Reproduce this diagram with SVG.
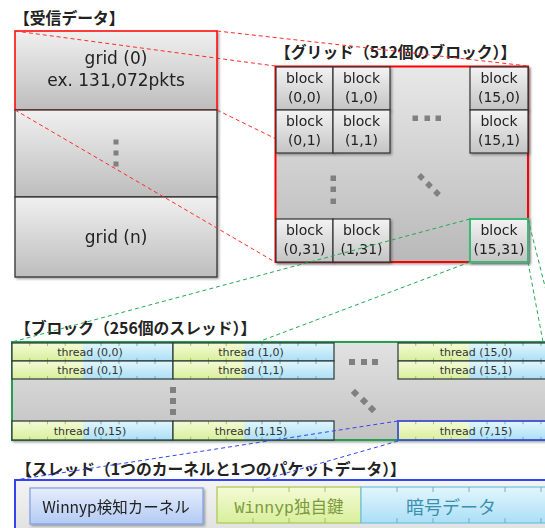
<svg xmlns="http://www.w3.org/2000/svg" width="545" height="528" viewBox="0 0 545 528">
<style>
.lbl{font-family:"Noto Sans CJK JP","Noto Sans CJK SC",sans-serif;font-weight:bold;font-size:15.8px;fill:#222}
.big{font-family:"DejaVu Sans",sans-serif;font-size:17px;fill:#222;text-anchor:middle}
.blk{font-family:"DejaVu Sans",sans-serif;font-size:14px;fill:#222;text-anchor:middle}
.thr{font-family:"DejaVu Sans",sans-serif;font-size:11px;fill:#333;text-anchor:middle}
.red{stroke:#ff2a2a;stroke-width:1;stroke-dasharray:4 3;fill:none}
.grn{stroke:#22aa55;stroke-width:1;stroke-dasharray:4 3;fill:none}
.blu{stroke:#3344ee;stroke-width:1;stroke-dasharray:4 3;fill:none}
.dot{fill:#808080}
.cell{fill:url(#gBlock);stroke:#333;stroke-width:1.2}
.gt{stroke:#a9c25a;stroke-width:1}
.bt{stroke:#6aaed0;stroke-width:1}
</style>
<defs>
<linearGradient id="gGray" x1="0" y1="0" x2="0" y2="1"><stop offset="0" stop-color="#f0f0f0"/><stop offset="1" stop-color="#bdbdbd"/></linearGradient>
<linearGradient id="gGrid" x1="0" y1="0" x2="0" y2="1"><stop offset="0" stop-color="#e8e8e8"/><stop offset="1" stop-color="#b9b9b9"/></linearGradient>
<linearGradient id="gBlock" x1="0" y1="0" x2="0" y2="1"><stop offset="0" stop-color="#f3f3f3"/><stop offset="1" stop-color="#c4c4c4"/></linearGradient>
<linearGradient id="gBB" x1="0" y1="0" x2="0" y2="1"><stop offset="0" stop-color="#e2e2e2"/><stop offset="1" stop-color="#c2c2c2"/></linearGradient>
<linearGradient id="gGreen" x1="0" y1="0" x2="0" y2="1"><stop offset="0" stop-color="#f4fbd6"/><stop offset="1" stop-color="#d8ef9c"/></linearGradient>
<linearGradient id="gBlue" x1="0" y1="0" x2="0" y2="1"><stop offset="0" stop-color="#e2f6fd"/><stop offset="1" stop-color="#abdff6"/></linearGradient>
<linearGradient id="gKern" x1="0" y1="0" x2="0" y2="1"><stop offset="0" stop-color="#e6eefc"/><stop offset="1" stop-color="#b3caf4"/></linearGradient>
<linearGradient id="gTB" x1="0" y1="0" x2="0" y2="1"><stop offset="0" stop-color="#f4f4f4"/><stop offset="1" stop-color="#dedede"/></linearGradient>
<filter id="sh" x="-5%" y="-5%" width="115%" height="140%"><feDropShadow dx="1.5" dy="1.5" stdDeviation="1" flood-color="#000" flood-opacity="0.35"/></filter>
<symbol id="thr" viewBox="0 0 161 18" preserveAspectRatio="none" overflow="visible">
<rect x="0" y="0" width="71" height="18" fill="url(#gGreen)"/>
<rect x="71" y="0" width="90" height="18" fill="url(#gBlue)"/>
<path class="gt" d="M17.75 0v3M35.5 0v3M53.25 0v3M17.75 15v3M35.5 15v3M53.25 15v3"/>
<path class="bt" d="M89 0v3M107 0v3M125 0v3M143 0v3M89 15v3M107 15v3M125 15v3M143 15v3"/>
<rect x="0" y="0" width="161" height="18" fill="none" stroke="#2b3838" stroke-width="1.2"/>
</symbol>
</defs>

<rect width="545" height="528" fill="#fff"/>

<!-- received data -->
<text class="lbl" x="14" y="24">【受信データ】</text>
<g id="grid-0" filter="url(#sh)">
<rect x="15" y="31" width="202" height="79" fill="url(#gGray)" stroke="#ff0000" stroke-width="1.5"/>
<text class="big" x="116" y="64">grid (0)</text>
<text class="big" x="116" y="86">ex. 131,072pkts</text>
</g>
<g id="grid-mid" filter="url(#sh)">
<rect x="15" y="110" width="202" height="87" fill="url(#gGray)" stroke="#333" stroke-width="1.3"/>
<rect class="dot" x="113.5" y="139.5" width="5" height="5"/>
<rect class="dot" x="113.5" y="150.5" width="5" height="5"/>
<rect class="dot" x="113.5" y="161.5" width="5" height="5"/>
</g>
<g id="grid-n" filter="url(#sh)">
<rect x="15" y="197" width="202" height="80" fill="url(#gGray)" stroke="#333" stroke-width="1.3"/>
<text class="big" x="116" y="243">grid (n)</text>
</g>

<!-- grid -->
<text class="lbl" x="275" y="58">【グリッド（512個のブロック）】</text>
<g id="grid" filter="url(#sh)">
<rect x="275.5" y="66.5" width="252.5" height="195.5" fill="url(#gGrid)" stroke="#ff0000" stroke-width="2"/>
<rect class="dot" x="412.5" y="115.5" width="5.5" height="5.5"/>
<rect class="dot" x="424.5" y="115.5" width="5.5" height="5.5"/>
<rect class="dot" x="435.5" y="115.5" width="5.5" height="5.5"/>
<rect class="dot" x="330.5" y="175.5" width="5.5" height="5.5"/>
<rect class="dot" x="330.5" y="186.5" width="5.5" height="5.5"/>
<rect class="dot" x="330.5" y="198.5" width="5.5" height="5.5"/>
<rect class="dot" x="-2.75" y="-2.75" width="5.5" height="5.5" transform="translate(421 177) rotate(45)"/>
<rect class="dot" x="-2.75" y="-2.75" width="5.5" height="5.5" transform="translate(429 185) rotate(45)"/>
<rect class="dot" x="-2.75" y="-2.75" width="5.5" height="5.5" transform="translate(437 193) rotate(45)"/>
</g>
<g id="block-0-0" filter="url(#sh)"><rect class="cell" x="276" y="67" width="57" height="43"/><text class="blk" x="304.5" y="83">block</text><text class="blk" x="304.5" y="102">(0,0)</text></g>
<g id="block-1-0" filter="url(#sh)"><rect class="cell" x="333" y="67" width="57" height="43"/><text class="blk" x="361.5" y="83">block</text><text class="blk" x="361.5" y="102">(1,0)</text></g>
<g id="block-15-0" filter="url(#sh)"><rect class="cell" x="470" y="67" width="58" height="43"/><text class="blk" x="499" y="83">block</text><text class="blk" x="499" y="102">(15,0)</text></g>
<g id="block-0-1" filter="url(#sh)"><rect class="cell" x="276" y="110" width="57" height="43"/><text class="blk" x="304.5" y="126">block</text><text class="blk" x="304.5" y="145">(0,1)</text></g>
<g id="block-1-1" filter="url(#sh)"><rect class="cell" x="333" y="110" width="57" height="43"/><text class="blk" x="361.5" y="126">block</text><text class="blk" x="361.5" y="145">(1,1)</text></g>
<g id="block-15-1" filter="url(#sh)"><rect class="cell" x="470" y="110" width="58" height="43"/><text class="blk" x="499" y="126">block</text><text class="blk" x="499" y="145">(15,1)</text></g>
<g id="block-0-31" filter="url(#sh)"><rect class="cell" x="276" y="219" width="57" height="43"/><text class="blk" x="304.5" y="235">block</text><text class="blk" x="304.5" y="254">(0,31)</text></g>
<g id="block-1-31" filter="url(#sh)"><rect class="cell" x="333" y="219" width="57" height="43"/><text class="blk" x="361.5" y="235">block</text><text class="blk" x="361.5" y="254">(1,31)</text></g>
<g id="block-15-31" filter="url(#sh)"><rect x="470" y="219" width="58" height="43" fill="url(#gBlock)" stroke="#3cb878" stroke-width="2"/><text class="blk" x="499" y="235">block</text><text class="blk" x="499" y="254">(15,31)</text></g>

<!-- block -->
<text class="lbl" x="15" y="334">【ブロック（256個のスレッド）】</text>
<g id="block" filter="url(#sh)">
<rect x="12" y="342" width="545" height="98" fill="url(#gBB)" stroke="#20a050" stroke-width="2"/>
<rect class="dot" x="349" y="359" width="6" height="6"/>
<rect class="dot" x="361" y="359" width="6" height="6"/>
<rect class="dot" x="372" y="359" width="6" height="6"/>
<rect class="dot" x="170" y="387" width="6" height="6"/>
<rect class="dot" x="170" y="398" width="6" height="6"/>
<rect class="dot" x="170" y="409" width="6" height="6"/>
<rect class="dot" x="-3" y="-3" width="6" height="6" transform="translate(355 393) rotate(45)"/>
<rect class="dot" x="-3" y="-3" width="6" height="6" transform="translate(364 401) rotate(45)"/>
<rect class="dot" x="-3" y="-3" width="6" height="6" transform="translate(372 409) rotate(45)"/>
</g>
<g id="thread-0-0"><use href="#thr" x="12" y="343" width="161" height="18"/><text class="thr" x="90" y="356">thread (0,0)</text></g>
<g id="thread-1-0"><use href="#thr" x="173" y="343" width="161" height="18"/><text class="thr" x="251" y="356">thread (1,0)</text></g>
<g id="thread-15-0"><use href="#thr" x="398" y="343" width="161" height="18"/><text class="thr" x="476" y="356">thread (15,0)</text></g>
<g id="thread-0-1"><use href="#thr" x="12" y="361" width="161" height="18"/><text class="thr" x="90" y="374">thread (0,1)</text></g>
<g id="thread-1-1"><use href="#thr" x="173" y="361" width="161" height="18"/><text class="thr" x="251" y="374">thread (1,1)</text></g>
<g id="thread-15-1"><use href="#thr" x="398" y="361" width="161" height="18"/><text class="thr" x="476" y="374">thread (15,1)</text></g>
<g id="thread-0-15"><use href="#thr" x="12" y="421" width="161" height="19"/><text class="thr" x="90" y="435">thread (0,15)</text></g>
<g id="thread-1-15"><use href="#thr" x="173" y="421" width="161" height="19"/><text class="thr" x="251" y="435">thread (1,15)</text></g>
<g id="thread-7-15"><use href="#thr" x="398" y="421" width="161" height="19"/><rect x="398" y="421" width="161" height="19" fill="none" stroke="#4455ee" stroke-width="1.5"/><text class="thr" x="476" y="435">thread (7,15)</text></g>

<!-- thread -->
<text class="lbl" x="16" y="475">【スレッド（1つのカーネルと1つのパケットデータ）】</text>
<g id="thread" filter="url(#sh)">
<rect x="15" y="480" width="545" height="60" fill="url(#gTB)" stroke="#3344ee" stroke-width="2"/>
</g>
<g id="kernel" filter="url(#sh)">
<rect x="30" y="488" width="173" height="36" fill="url(#gKern)" stroke="#7d9ee0" stroke-width="1.2"/>
<text x="116" y="513" text-anchor="middle" style="font-family:'Noto Sans CJK JP',sans-serif;font-size:15.5px;fill:#222">Winnyp検知カーネル</text>
</g>
<g id="key">
<rect x="217" y="487" width="144" height="36" fill="url(#gGreen)" stroke="#a7c94d" stroke-width="1.2"/>
<path class="gt" d="M253 487v5M289 487v5M325 487v5M253 518v5M289 518v5M325 518v5"/>
<text x="289" y="513" text-anchor="middle" style="font-family:'Liberation Mono','Noto Sans CJK JP',monospace;font-size:16.5px;fill:#7d9a3c">Winnyp独自鍵</text>
</g>
<g id="data">
<rect x="361" y="487" width="200" height="36" fill="url(#gBlue)" stroke="#6cc0e0" stroke-width="1.2"/>
<path class="bt" d="M397 487v5M433 487v5M469 487v5M505 487v5M541 487v5M397 518v5M433 518v5M469 518v5M505 518v5M541 518v5"/>
<text x="451" y="514" text-anchor="middle" style="font-family:'Noto Sans CJK JP',sans-serif;font-size:18px;fill:#3a8fb0">暗号データ</text>
</g>

<!-- connectors -->
<g id="connectors">
<path class="red" d="M15 31L275 66M217 31L528 66M15 110L275 262M217 110L275 138.4"/>
<path class="grn" d="M470 219L12 342M470 262L258 342M528 219L559 342M528 262L543 342"/>
<path class="blu" d="M398 421L15 480M398 441L262 480"/>
</g>
</svg>
